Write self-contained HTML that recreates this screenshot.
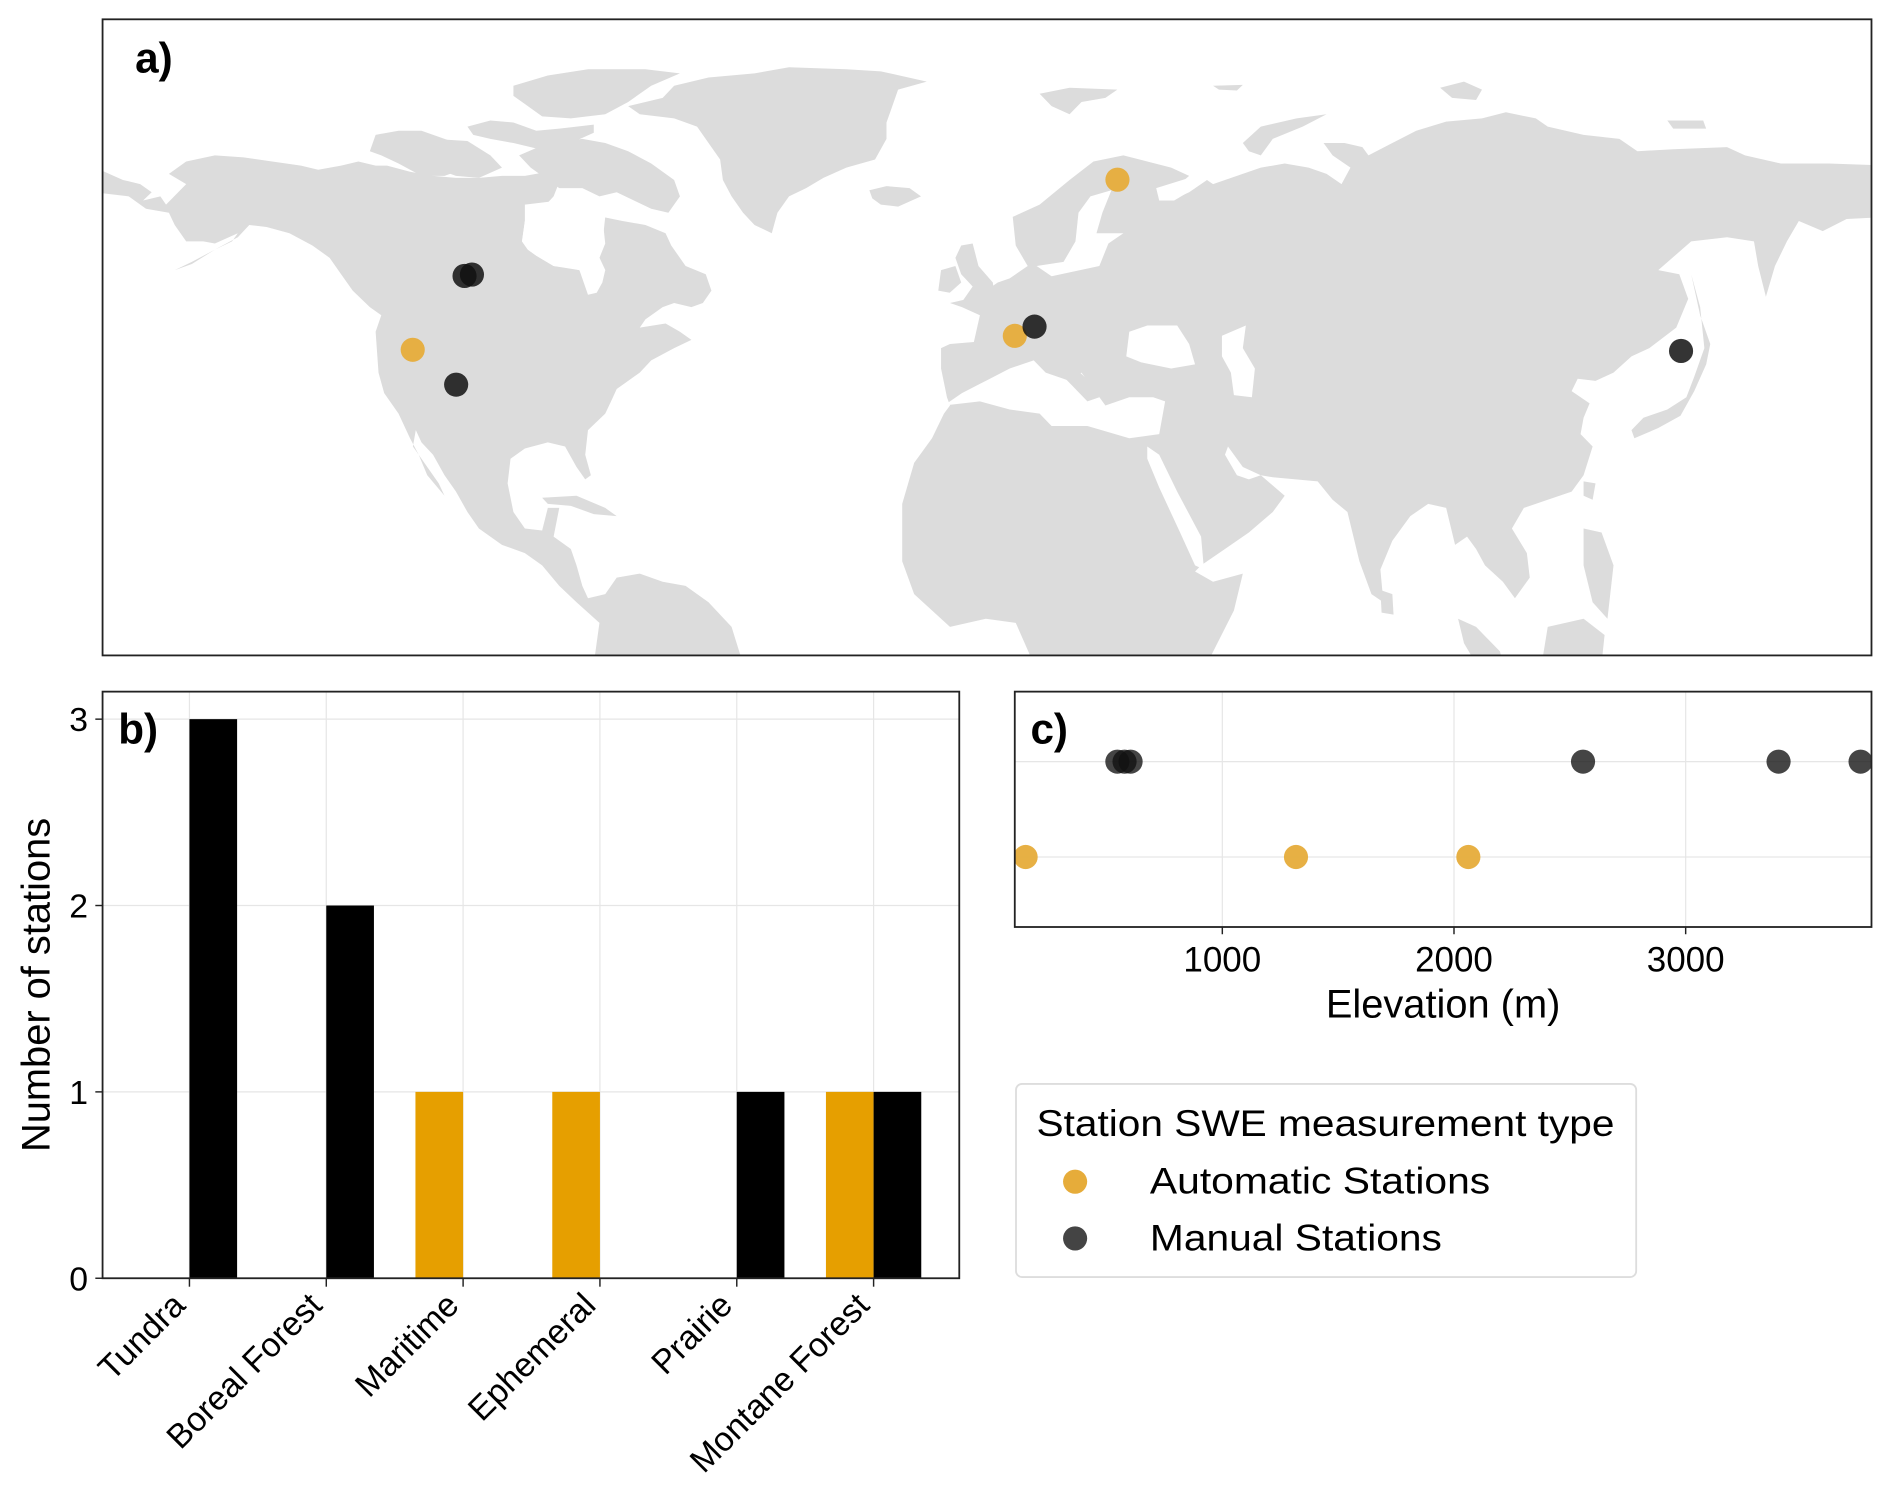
<!DOCTYPE html>
<html><head><meta charset="utf-8">
<style>
html,body{margin:0;padding:0;background:#fff;}
svg{display:block;font-family:"Liberation Sans",Arial,sans-serif;}
</style></head>
<body>
<svg id="fig" width="1892" height="1510" viewBox="0 0 1568 1251" preserveAspectRatio="none" xmlns="http://www.w3.org/2000/svg">
  <defs><clipPath id="mapclip"><rect x="85" y="16" width="1466" height="527"/></clipPath>
  <clipPath id="eclip"><rect x="841" y="573" width="710" height="195"/></clipPath></defs>
  <g id="map">
    <rect x="85" y="16" width="1466" height="527" fill="#fff"/>
    <g id="land" clip-path="url(#mapclip)"></g>
    <g id="stations" clip-path="url(#mapclip)"></g>
    <rect x="85" y="16" width="1466" height="527" fill="none" stroke="#222" stroke-width="1.5"/>
    <text x="112" y="60" font-size="35" font-weight="bold">a)</text>
  </g>
  <g id="barpanel"></g>
  <g id="elevpanel"></g>
  <g id="legend">
    <rect x="842" y="898" width="514" height="160" rx="5" fill="#fff" stroke="#ddd" stroke-width="1.5"/>
    <text x="859" y="941" font-size="31" textLength="479" lengthAdjust="spacingAndGlyphs">Station SWE measurement type</text>
    <circle cx="891" cy="979" r="10" fill="#e6ac3a"/>
    <text x="953" y="989" font-size="31" textLength="282" lengthAdjust="spacingAndGlyphs">Automatic Stations</text>
    <circle cx="891" cy="1026" r="10" fill="#444"/>
    <text x="953" y="1036" font-size="31" textLength="242" lengthAdjust="spacingAndGlyphs">Manual Stations</text>
  </g>
</svg>
<script>
// ---- bar chart data ----
const categories = ["Tundra","Boreal Forest","Maritime","Ephemeral","Prairie","Montane Forest"];
const autoCounts = [0,0,1,1,0,1];
const manualCounts = [3,2,0,0,1,1];
const yTicks = [0,1,2,3];
// ---- elevation data ----
const autoElev = [151,1318,2062];
const manualElev = [547,578,604,2557,3401,3755];
const elevTicks = [1000,2000,3000];
// ---- station locations ----
const autoLon = [26.6,5.8,-116.2];
const autoLat = [67.4,45.3,43.0];
const manualLon = [-105.7,-104.2,-107.4,9.8,140.8];
const manualLat = [54.6,54.8,37.0,46.8,42.8];

const NS="http://www.w3.org/2000/svg";
function mk(tag,attrs,parent){const e=document.createElementNS(NS,tag);for(const k in attrs)e.setAttribute(k,attrs[k]);parent.appendChild(e);return e;}

// ---- map land (background geography) ----
function z3(x,y){return [82.9+x*0.4758,16.6+y*0.3397];}
function z4(x,y){return [787.3+x*0.4954,16.6+y*0.3397];}
function poly(str,f,fill,name){
  const nums=str.trim().split(/[\s,]+/).map(Number);const pts=[];
  for(let i=0;i<nums.length;i+=2){const p=f(nums[i],nums[i+1]);pts.push(p[0].toFixed(1)+","+p[1].toFixed(1));}
  const e=mk("polygon",{points:pts.join(" "),fill:fill},document.getElementById("land"));
  
  
}
const L="#dcdcdc",W="#fff";
poly("0,365 40,390 70,400 90,420 75,440 105,430 115,450 150,400 120,375 150,345 200,330 250,335 300,345 350,355 380,365 420,355 450,345 480,355 500,355 540,370 580,380 620,385 660,385 700,380 740,380 780,370 800,395 790,430 770,460 740,490 735,540 745,560 760,575 790,600 820,605 835,610 850,670 865,665 875,640 880,610 870,580 880,545 875,480 910,490 950,500 985,520 995,550 1020,600 1055,620 1065,660 1050,690 1030,700 1000,690 980,700 950,730 940,750 985,740 1010,760 1030,780 1000,800 960,830 940,860 900,900 890,930 880,960 850,1000 845,1060 855,1110 845,1120 830,1090 810,1040 780,1030 740,1045 715,1070 710,1130 720,1200 740,1240 770,1245 780,1190 800,1190 790,1260 820,1290 830,1330 840,1380 850,1410 880,1400 900,1360 940,1350 980,1370 1020,1380 1060,1420 1100,1480 1120,1570 860,1570 870,1470 830,1420 800,1380 770,1330 740,1300 700,1280 660,1240 640,1200 620,1150 600,1110 580,1060 560,1030 550,1000 545,1040 565,1080 590,1130 600,1160 570,1110 555,1060 540,1020 520,960 495,910 485,860 480,760 490,720 470,700 440,660 420,620 400,580 370,550 330,520 290,505 260,500 240,530 200,560 160,590 130,610 160,595 200,560 230,540 240,520 200,545 180,540 150,540 130,500 120,470 80,460 50,430 -10,420 -10,365",z3,L,"north-america");
poly("740,450 800,440 830,450 850,470 880,480 875,545 870,580 880,610 870,640 850,660 835,610 790,600 760,575 745,560 735,540 740,490",z3,W,"hudson-bay");
poly("470,320 480,280 520,270 560,270 600,290 620,300 640,320 650,340 640,360 600,380 560,380 520,350 490,330",z3,L,"arctic-island");
poly("640,260 680,245 720,250 760,270 800,265 860,255 860,275 820,300 780,320 750,310 720,300 680,290 650,280",z3,L,"arctic-island");
poly("720,160 780,135 850,120 950,120 1010,130 960,160 920,200 880,230 820,240 770,235 740,205 720,185",z3,L,"ellesmere-island");
poly("730,330 780,300 840,290 880,300 920,320 960,350 1000,390 1010,430 990,470 960,460 930,440 900,420 870,430 840,410 800,410 780,390 750,360",z3,L,"baffin-island");
poly("540,300 580,290 640,295 680,330 700,360 660,385 620,380 580,360 550,340",z3,L,"victoria-island");
poly("1140,130 1200,115 1300,120 1360,125 1440,150 1390,170 1380,210 1370,250 1370,290 1350,340 1300,360 1260,385 1230,410 1200,430 1180,470 1170,520 1140,500 1120,470 1100,430 1085,390 1080,340 1060,300 1040,260 1000,240 940,230 920,210 980,190 1000,160 1060,140",z3,L,"greenland");
poly("1340,415 1370,405 1410,410 1430,430 1390,455 1360,450 1345,435",z3,L,"iceland");
poly("1500,550 1520,545 1530,600 1555,640 1560,690 1520,700 1500,690 1520,650 1500,620 1490,580",z3,L,"great-britain");
poly("1465,610 1490,600 1500,640 1480,665 1460,660",z3,L,"ireland");
poly("770,1165 830,1160 880,1190 900,1210 860,1205 820,1185 780,1180",z3,L,"cuba");
poly("130,600 110,550 105,480 150,450 200,390 240,345 290,330 330,345 370,360 400,380 380,405 350,410 350,440 370,440 400,420 430,390 440,400 480,380 520,360 560,350 600,360 630,375 655,400 670,360 640,330 625,300 660,300 690,310 700,330 740,300 780,270 830,248 890,240 930,225 980,240 1000,260 1060,280 1120,290 1150,320 1210,315 1300,310 1330,330 1390,350 1470,350 1570,355 1570,480 1500,485 1460,515 1420,490 1400,540 1380,600 1365,675 1352,600 1345,540 1300,530 1240,540 1185,610 1220,620 1235,680 1215,750 1170,800 1140,820 1110,860 1080,880 1050,875 1040,905 1070,935 1060,970 1055,1010 1075,1040 1060,1110 1040,1150 1000,1170 960,1190 940,1240 965,1300 970,1360 945,1410 925,1370 895,1330 880,1290 865,1260 845,1280 830,1190 800,1180 770,1210 740,1270 720,1340 725,1420 705,1400 685,1320 665,1200 640,1170 615,1125 540,1115 520,1110 560,1160 540,1200 500,1250 460,1290 420,1330 410,1345 440,1370 490,1350 475,1440 430,1570 140,1570 110,1470 60,1460 0,1480 -60,1400 -80,1320 -80,1180 -60,1080 -30,1020 -10,960 0,940 -5,920 -15,850 -15,800 0,790 40,785 50,720 20,700 0,690 30,680 60,660 80,640 100,630",z4,L,"eurasia-africa");
poly("-10,940 20,910 60,880 100,850 140,830 160,860 200,880 220,860 240,900 260,940 300,920 340,920 360,930 350,1010 300,1020 230,990 170,990 150,960 100,950 50,930",z4,W,"mediterranean-sea");
poly("150,790 180,800 210,850 240,890 250,920 230,930 210,900 190,870 160,840 140,820",z4,L,"italy");
poly("250,840 290,840 330,850 380,845 405,860 390,900 340,910 300,900 270,880",z4,L,"anatolia");
poly("300,760 330,745 380,745 400,790 410,840 370,850 320,835 295,820",z4,W,"black-sea");
poly("455,770 495,745 490,800 510,850 505,920 475,915 470,860 455,820",z4,W,"caspian-sea");
poly("330,1040 350,1060 380,1150 420,1260 425,1340 410,1330 385,1250 350,1140 330,1070",z4,W,"red-sea");
poly("465,1040 490,1090 520,1110 500,1120 480,1110 460,1060",z4,W,"persian-gulf");
poly("215,470 235,430 270,415 255,470 245,520 290,520 265,545 250,600 170,625 145,600 190,590 210,540",z4,W,"baltic-sea");
poly("345,410 400,385 410,410 375,440 350,440",z4,W,"white-sea");
poly("1240,620 1255,700 1262,800 1245,870 1232,920 1200,950 1160,970 1140,1000 1145,1020 1185,995 1222,965 1245,905 1265,840 1272,790 1255,720",z4,L,"japan");
poly("1060,1125 1080,1130 1075,1170 1060,1160",z4,L,"taiwan");
poly("1060,1240 1090,1250 1110,1330 1100,1460 1075,1420 1060,1330",z4,L,"philippines");
poly("1000,1480 1060,1460 1095,1500 1090,1570 990,1570",z4,L,"borneo");
poly("850,1460 880,1480 920,1540 925,1570 880,1570 860,1520",z4,L,"sumatra");
poly("720,1390 740,1400 742,1450 722,1445",z4,L,"sri-lanka");
poly("490,300 520,260 580,240 630,230 590,260 540,290 520,330 500,320",z4,L,"novaya-zemlya");
poly("150,180 200,165 280,170 260,190 220,200 200,230 170,210",z4,L,"svalbard");
poly("820,165 860,150 890,170 880,195 840,190",z4,L,"severnaya-zemlya");
poly("1200,245 1260,245 1265,265 1210,265",z4,L,"new-siberian-islands");
poly("440,160 490,158 480,172 450,170",z4,L,"franz-josef-land");

// ---- map projection (Miller) ----
function mapX(lon){return 817.3+lon*4.09;}
function mapY(lat){const r=lat*Math.PI/180;return 477-1.25*Math.log(Math.tan(Math.PI/4+0.4*r))*234;}
const st=document.getElementById("stations");
for(let i=0;i<autoLon.length;i++){
  const c=mk("circle",{cx:mapX(autoLon[i]),cy:mapY(autoLat[i]),r:10,fill:"#e6ac3a","fill-opacity":0.95},st);
  
  
}
for(let i=0;i<manualLon.length;i++){
  const c=mk("circle",{cx:mapX(manualLon[i]),cy:mapY(manualLat[i]),r:10,fill:"#111","fill-opacity":0.85},st);
  
  
}

// ---- bar chart ----
const bp=document.getElementById("barpanel");
const bx0=85,bx1=795,by0=573,by1=1059;
function yB(v){return 1059-v*154.4;}
function xB(i){return 157+i*113.4;}
const bw=39.5;
for(const t of yTicks){
  const g=mk("line",{x1:bx0,x2:bx1,y1:yB(t),y2:yB(t),stroke:"#e6e6e6","stroke-width":1},bp);
  
  
  const tk=mk("line",{x1:bx0-6,x2:bx0,y1:yB(t),y2:yB(t),stroke:"#222","stroke-width":1.2},bp);
  
  
  const tl=mk("text",{x:bx0-12,y:yB(t)+10,"font-size":28,"text-anchor":"end"},bp);
  tl.textContent=t;
  
  
}
categories.forEach((c,i)=>{
  const g=mk("line",{x1:xB(i),x2:xB(i),y1:by0,y2:by1,stroke:"#e6e6e6","stroke-width":1},bp);
  
  
});
categories.forEach((c,i)=>{
  if(autoCounts[i]>0){
    const r=mk("rect",{x:xB(i)-bw,y:yB(autoCounts[i]),width:bw,height:yB(0)-yB(autoCounts[i]),fill:"#e69f00"},bp);
    
    
  }
  if(manualCounts[i]>0){
    const r=mk("rect",{x:xB(i),y:yB(manualCounts[i]),width:bw,height:yB(0)-yB(manualCounts[i]),fill:"#000"},bp);
    
    
  }
  const tk=mk("line",{x1:xB(i),x2:xB(i),y1:by1,y2:by1+7,stroke:"#222","stroke-width":1.2},bp);
  
  
  const tx=xB(i)-2,ty=by1+24;
  const tl=mk("text",{x:tx,y:ty,"font-size":28,"text-anchor":"end",transform:`rotate(-45 ${tx} ${ty})`},bp);
  tl.textContent=c;
  
  
});
const bb=mk("rect",{x:bx0,y:by0,width:bx1-bx0,height:by1-by0,fill:"none",stroke:"#222","stroke-width":1.5},bp);


const yl=mk("text",{x:41,y:816,"font-size":33,"text-anchor":"middle",transform:"rotate(-90 41 816)"},bp);
yl.textContent="Number of stations";


const bl=mk("text",{x:98,y:616,"font-size":35,"font-weight":"bold"},bp);
bl.textContent="b)";



// ---- elevation panel ----
const ep=document.getElementById("elevpanel");
const ex0=841,ex1=1551,ey0=573,ey1=768;
function xE(v){return 1013+(v-1000)*0.192;}
const rowManual=631,rowAuto=710;
for(const t of elevTicks){
  const g=mk("line",{x1:xE(t),x2:xE(t),y1:ey0,y2:ey1,stroke:"#e6e6e6","stroke-width":1},ep);
  
  
  const tk=mk("line",{x1:xE(t),x2:xE(t),y1:ey1,y2:ey1+6,stroke:"#222","stroke-width":1.2},ep);
  
  
  const tl=mk("text",{x:xE(t),y:805,"font-size":29,"text-anchor":"middle"},ep);
  tl.textContent=t;
  
  
}
[rowManual,rowAuto].forEach(y=>{
  const g=mk("line",{x1:ex0,x2:ex1,y1:y,y2:y,stroke:"#e6e6e6","stroke-width":1},ep);
  
  
});
const eclipG=mk("g",{"clip-path":"url(#eclip)"},ep);
autoElev.forEach(v=>{
  const c=mk("circle",{cx:xE(v),cy:rowAuto,r:10,fill:"#e6ac3a","fill-opacity":0.95},eclipG);
  
  
});
manualElev.forEach(v=>{
  const c=mk("circle",{cx:xE(v),cy:rowManual,r:10,fill:"#111","fill-opacity":0.78},eclipG);
  
  
});
const eb=mk("rect",{x:ex0,y:ey0,width:ex1-ex0,height:ey1-ey0,fill:"none",stroke:"#222","stroke-width":1.5},ep);


const xl=mk("text",{x:1196,y:843,"font-size":33,"text-anchor":"middle"},ep);
xl.textContent="Elevation (m)";


const cl=mk("text",{x:854,y:616,"font-size":35,"font-weight":"bold"},ep);
cl.textContent="c)";


</script>
</body></html>
